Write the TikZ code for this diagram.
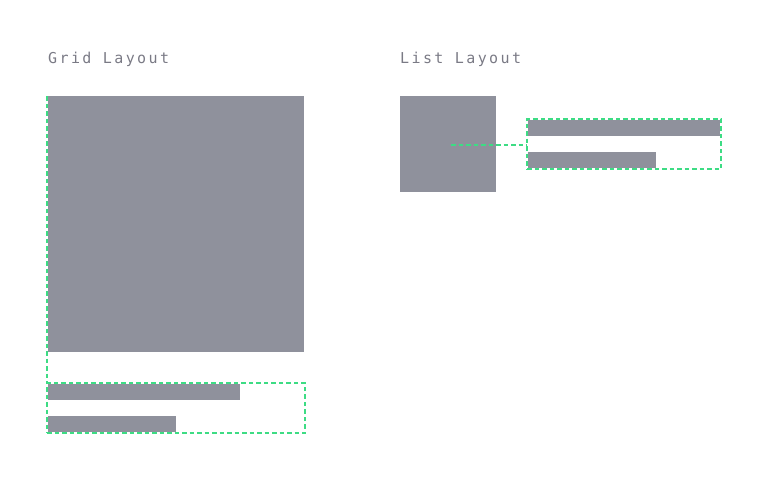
\documentclass[tikz,border=0pt]{standalone}
\usepackage{fontspec}
\newfontfamily\labelfont[LetterSpace=16]{DejaVu Sans Mono}
\definecolor{boxgray}{HTML}{8F919C}
\definecolor{textgray}{HTML}{7A7A85}
\definecolor{andgreen}{HTML}{3DDC84}
\begin{document}
\begin{tikzpicture}[x=1pt,y=-1pt,
  block/.style={fill=boxgray,draw=none,inner sep=0pt,outer sep=0pt,anchor=north west},
  guide/.style={draw=andgreen,line width=1.5pt,dash pattern=on 4.5pt off 3pt},
  title/.style={anchor=base west,inner sep=0pt,text=textgray,font=\labelfont\fontsize{15}{17}\selectfont}]
\useasboundingbox (0,0) rectangle (768,480);
% titles
\node[title] (gt) at (48,63.5) {Grid Layout};
\node[title] (lt) at (400,63.5) {List Layout};
% grid layout
\node[block,minimum width=256pt,minimum height=256pt] (gimg) at (48,96) {};
\node[block,minimum width=192pt,minimum height=16pt] (gbar1) at (48,384) {};
\node[block,minimum width=128pt,minimum height=16pt] (gbar2) at (48,416) {};
\node[guide,inner sep=0pt,outer sep=0pt,minimum width=258pt,minimum height=50pt,anchor=north west] (gtext) at (47,383) {};
\coordinate (gtop) at (47,96);
\draw[guide] (gtop) -- (gtext.north west);
% list layout
\node[block,minimum width=96pt,minimum height=96pt] (limg) at (400,96) {};
\node[block,minimum width=192pt,minimum height=16pt] (lbar1) at (528,120) {};
\node[block,minimum width=128pt,minimum height=16pt] (lbar2) at (528,152) {};
\node[guide,inner sep=0pt,outer sep=0pt,minimum width=194pt,minimum height=50pt,anchor=north west] (ltext) at (527,119) {};
\coordinate (lmid) at (451,145);
\draw[guide] (lmid) -- (lmid -| ltext.west);
\end{tikzpicture}
\end{document}
